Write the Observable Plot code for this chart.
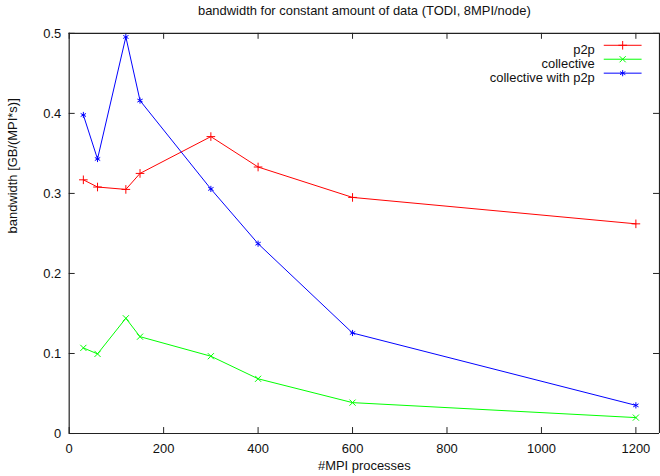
<!DOCTYPE html>
<html>
<head>
<meta charset="utf-8">
<script src="https://cdn.jsdelivr.net/npm/d3@7"></script>
<script src="https://cdn.jsdelivr.net/npm/@observablehq/plot@0.6"></script>
<style>
  html, body { margin: 0; padding: 0; background: #fff; overflow: hidden; width: 660px; height: 476px; }
  #chart svg { display: block; }
</style>
</head>
<body>
<div id="chart"></div>
<script>
const title = "bandwidth for constant amount of data (TODI, 8MPI/node)";
const xLabel = "#MPI processes";
const yLabel = "bandwidth [GB/(MPI*s)]";

const procs = [30, 60, 120, 150, 300, 400, 600, 1200];
const p2p = [0.317, 0.308, 0.305, 0.325, 0.371, 0.333, 0.295, 0.262];
const collective = [0.107, 0.0995, 0.144, 0.121, 0.0966, 0.0684, 0.0386, 0.0199];
const collectiveP2p = [0.398, 0.343, 0.4955, 0.416, 0.3056, 0.2372, 0.1256, 0.0352];

const seriesNames = ["p2p", "collective", "collective with p2p"];
const seriesColors = ["#ff0000", "#00ff00", "#0000ff"];
const seriesSymbols = ["plus", "times", "asterisk"];

const xTicks = [0, 200, 400, 600, 800, 1000, 1200];
const yTicks = [0, 0.1, 0.2, 0.3, 0.4, 0.5];

const seriesValues = [p2p, collective, collectiveP2p];
const data = seriesValues.flatMap((vals, i) =>
  procs.map((x, j) => ({series: seriesNames[i], x, y: vals[j]}))
);

const W = 663, H = 476, mL = 69, mR = 1, mT = 33, mB = 41;
const plotW = W - mL - mR, plotH = H - mT - mB;
const tick = 6;
const font = "Liberation Sans, Arimo, Helvetica, Arial, sans-serif";
const fs = 13;

// custom symbol for legend line sample
const legendLine = { draw(ctx) { ctx.moveTo(-19, 0); ctx.lineTo(19, 0); } };

const marks = [
  // frame
  Plot.ruleY([0], {stroke: "#222", strokeWidth: 1.2}),
  Plot.ruleY([0.5], {stroke: "#222", strokeWidth: 1.2}),
  Plot.ruleX([0], {stroke: "#222", strokeWidth: 1.2}),
  Plot.ruleX([1250], {stroke: "#222", strokeWidth: 1.2}),
  // inward ticks
  Plot.tickX(xTicks, {x: d => d, insetTop: plotH - tick, stroke: "#222"}),
  Plot.tickX(xTicks, {x: d => d, insetBottom: plotH - tick, stroke: "#222"}),
  Plot.tickY(yTicks, {y: d => d, insetRight: plotW - tick, stroke: "#222"}),
  Plot.tickY(yTicks, {y: d => d, insetLeft: plotW - tick, stroke: "#222"}),
  // tick labels
  Plot.axisX({ticks: xTicks, tickSize: 0, tickPadding: 10, tickFormat: d => String(d), label: null, fontSize: fs, fill: "#111", fontFamily: font}),
  Plot.axisY({ticks: yTicks, tickSize: 0, tickPadding: 8, tickFormat: d => String(d), label: null, fontSize: fs, fill: "#111", fontFamily: font}),
  // lines & markers
  ...seriesNames.map((name, i) =>
    Plot.line(data.filter(d => d.series === name), {x: "x", y: "y", stroke: seriesColors[i], strokeWidth: 1})
  ),
  ...seriesNames.map((name, i) =>
    Plot.dot(data.filter(d => d.series === name), {x: "x", y: "y", stroke: seriesColors[i], symbol: seriesSymbols[i], r: 2.9, strokeWidth: 1})
  ),
  // legend
  ...seriesNames.flatMap((name, i) => [
    Plot.text([name], {text: d => d, frameAnchor: "top-right", dx: -65, dy: 12 + 14 * i, textAnchor: "end", fontSize: fs, fill: "#111", fontFamily: font}),
    Plot.dot([name], {frameAnchor: "top-right", dx: -37, dy: 12 + 14 * i, symbol: legendLine, stroke: seriesColors[i], strokeWidth: 1}),
    Plot.dot([name], {frameAnchor: "top-right", dx: -37, dy: 12 + 14 * i, symbol: seriesSymbols[i], r: 2.9, stroke: seriesColors[i], strokeWidth: 1})
  ]),
  // titles
  Plot.text([title], {text: d => d, frameAnchor: "top", dx: 0, dy: -23, fontSize: fs, fill: "#111", fontFamily: font, lineAnchor: "middle"}),
  Plot.text([xLabel], {text: d => d, frameAnchor: "bottom", dy: 32, fontSize: fs, fill: "#111", fontFamily: font, lineAnchor: "middle"}),
  Plot.text([yLabel], {text: d => d, frameAnchor: "left", dx: -57, rotate: -90, fontSize: fs, fill: "#111", fontFamily: font})
];

const chart = Plot.plot({
  width: W, height: H,
  marginLeft: mL, marginRight: mR, marginTop: mT, marginBottom: mB,
  x: {domain: [0, 1250], axis: null},
  y: {domain: [0, 0.5], axis: null},
  style: {fontFamily: font, background: "#fff", overflow: "visible"},
  marks
});
document.getElementById("chart").appendChild(chart);
</script>
</body>
</html>
